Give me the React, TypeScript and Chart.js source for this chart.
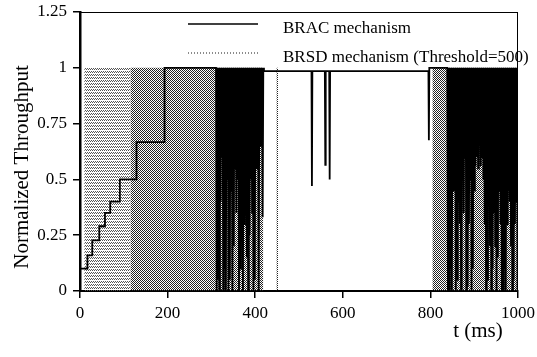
import React, { useEffect, useRef } from 'react';
import { Chart, registerables } from 'chart.js';

Chart.register(...registerables);

// ---- Data ----
const xTickValues = [0, 200, 400, 600, 800, 1000];
const yTickValues = [0, 0.25, 0.5, 0.75, 1, 1.25];
const seriesNames = ['BRAC mechanism', 'BRSD mechanism (Threshold=500)'];
const xTitle = 't (ms)';
const yTitle = 'Normalized Throughput';

// BRAC: slow-start ramp
const bracRampT = [0, 0, 17, 17, 28, 28, 44, 44, 57, 57, 69, 69, 91, 91, 129, 129, 193, 193, 310.5];
const bracRampY = [0, 0.1, 0.1, 0.16, 0.16, 0.227, 0.227, 0.29, 0.29, 0.35, 0.35, 0.4, 0.4, 0.5, 0.5, 0.667, 0.667, 1, 1];

// BRAC: first burst of drops (≈310–420 ms)
const bracBurst1T = [312, 313.5, 315, 316.5, 318, 319.5, 321, 322.5, 324, 325.5, 327, 328.5, 330, 331.5, 333, 334.5, 336, 337.5, 339, 340.5, 342, 343.5, 345, 346.5, 348, 349.5, 351, 352.5, 354, 355.5, 357, 358.5, 360, 361.5, 363, 364.5, 366, 367.5, 369, 370.5, 372, 373.5, 375, 376.5, 378, 379.5, 381, 382.5, 384, 385.5, 387, 388.5, 390, 391.5, 393, 394.5, 396, 397.5, 399, 400.5, 402, 403.5, 405, 406.5, 408, 409.5, 411, 412.5, 414, 415.5, 417, 418.5];
const bracBurst1Y = [0, 1, 0.05, 1, 0, 1, 0.4, 1, 0.6, 1, 0, 1, 0.1, 1, 0, 1, 0.5, 1, 0, 1, 0.05, 1, 0.45, 1, 0, 1, 0.2, 1, 0.55, 1, 0.35, 1, 0.5, 1, 0, 1, 0.1, 1, 0.4, 1, 0, 1, 0.3, 1, 0.6, 1, 0.15, 1, 0, 1, 0.25, 1, 0.5, 1, 0.35, 1, 0, 1, 0.05, 1, 0.55, 1, 0.7, 1, 0, 1, 0.65, 1, 0.8, 1, 0.33, 1];

// BRAC: plateau with a few dips
const bracPlateauT = [420, 528.5, 529.5, 530.5, 559, 560, 561, 569, 570, 571, 795.5, 796.5, 797.5, 838.5];
const bracPlateauY = [0.985, 0.985, 0.47, 0.985, 0.985, 0.565, 0.985, 0.985, 0.5, 0.985, 0.985, 0.675, 1, 1];

// BRAC: second burst of drops (≈840–1000 ms)
const bracBurst2T = [840, 841.5, 843, 844.5, 846, 847.5, 849, 850.5, 852, 853.5, 855, 856.5, 858, 859.5, 861, 862.5, 864, 865.5, 867, 868.5, 870, 871.5, 873, 874.5, 876, 877.5, 879, 880.5, 882, 883.5, 885, 886.5, 888, 889.5, 891, 892.5, 894, 895.5, 897, 898.5, 900, 901.5, 903, 904.5, 906, 907.5, 909, 910.5, 912, 913.5, 915, 916.5, 918, 919.5, 921, 922.5, 924, 925.5, 927, 928.5, 930, 931.5, 933, 934.5, 936, 937.5, 939, 940.5, 942, 943.5, 945, 946.5, 948, 949.5, 951, 952.5, 954, 955.5, 957, 958.5, 960, 961.5, 963, 964.5, 966, 967.5, 969, 970.5, 972, 973.5, 975, 976.5, 978, 979.5, 981, 982.5, 984, 985.5, 987, 988.5, 990, 991.5, 993, 994.5, 996, 997.5, 999, 1000];
const bracBurst2Y = [0, 1, 0, 1, 0.1, 1, 0, 1, 0.45, 1, 0.6, 1, 0, 1, 0.05, 1, 0.4, 1, 0.3, 1, 0, 1, 0.55, 1, 0.35, 1, 0.6, 1, 0, 1, 0.02, 1, 0.3, 1, 0.5, 1, 0, 1, 0.1, 1, 0.45, 1, 0.56, 1, 0.6, 1, 0.55, 1, 0.65, 1, 0.56, 1, 0.6, 1, 0.5, 1, 0.3, 1, 0, 1, 0.05, 1, 0.4, 1, 0.2, 1, 0, 1, 0.1, 1, 0.35, 1, 0.2, 1, 0, 1, 0.15, 1, 0.45, 1, 0.3, 1, 0, 1, 0, 1, 0.1, 1, 0, 1, 0.3, 1, 0.45, 1, 0.4, 1, 0.2, 1, 0, 1, 0.05, 1, 0.3, 1, 0.4, 1, 0, 1];

// BRSD: step levels (rendered as a halftone-filled area)
const brsdT = [0, 10, 10, 115, 418, 418, 449, 449, 452, 452, 805, 805, 1000];
const brsdY = [0, 0, 1, 1, 1, 0, 0, 1, 1, 0, 0, 1, 1];
const brsdShadeBreak = 115; // lighter halftone before this time

const zip = (t: number[], y: number[]) =>
  t.slice(0, Math.min(t.length, y.length)).map((x, i) => ({ x, y: y[i] }));

const FONT = '"Liberation Serif", "Times New Roman", serif';

const zeroPad = (s: any) => {
  s.paddingTop = 0;
  s.paddingBottom = 0;
  s.paddingLeft = 0;
  s.paddingRight = 0;
};

export default function App() {
  const ref = useRef<HTMLCanvasElement>(null);

  useEffect(() => {
    const canvas = ref.current!;
    const mainCtx = canvas.getContext('2d')!;
    const makePattern = (w: number, h: number, dots: number[][], color: string) => {
      const c = document.createElement('canvas');
      c.width = w;
      c.height = h;
      const g = c.getContext('2d')!;
      g.fillStyle = color;
      dots.forEach(([x, y]) => g.fillRect(x, y, 1, 1));
      return mainCtx.createPattern(c, 'repeat')!;
    };
    const darkDots = makePattern(2, 2, [[0, 0], [1, 1]], '#222');
    const lightDots = makePattern(2, 3, [[0, 0], [1, 2]], '#555');

    const bracData = [
      ...zip(bracRampT, bracRampY),
      ...zip(bracBurst1T, bracBurst1Y),
      ...zip(bracPlateauT, bracPlateauY),
      ...zip(bracBurst2T, bracBurst2Y),
    ];
    const brsdAll = zip(brsdT, brsdY);
    const brsdLight = brsdAll.filter((p) => p.x <= brsdShadeBreak);
    const brsdDark = brsdAll.filter((p) => p.x >= brsdShadeBreak);

    const decor = {
      id: 'decor',
      beforeDatasetsDraw(chart: any) {
        const c = chart.ctx;
        c.save();
        c.strokeStyle = '#000';
        c.lineWidth = 1.6;
        c.beginPath();
        c.moveTo(188, 24);
        c.lineTo(258, 24);
        c.stroke();
        c.strokeStyle = '#666';
        c.setLineDash([1, 2]);
        c.beginPath();
        c.moveTo(188, 53);
        c.lineTo(258, 53);
        c.stroke();
        c.setLineDash([]);
        c.fillStyle = '#000';
        c.font = `17px ${FONT}`;
        c.textAlign = 'left';
        c.textBaseline = 'alphabetic';
        c.fillText(seriesNames[0], 283, 33);
        c.fillText(seriesNames[1], 283, 62);
        c.restore();
      },
      afterDraw(chart: any) {
        const c = chart.ctx;
        const a = chart.chartArea;
        c.save();
        c.strokeStyle = '#000';
        c.lineWidth = 1;
        c.beginPath();
        c.moveTo(a.left, a.top + 0.5);
        c.lineTo(a.right, a.top + 0.5);
        c.moveTo(a.right - 0.5, a.top);
        c.lineTo(a.right - 0.5, a.bottom);
        c.stroke();
        c.fillStyle = '#000';
        c.font = `21px ${FONT}`;
        c.textAlign = 'center';
        c.textBaseline = 'middle';
        c.fillText(xTitle, 478, 331);
        c.translate(22, 167);
        c.rotate(-Math.PI / 2);
        c.fillText(yTitle, 0, 0);
        c.restore();
      },
    };

    const chart = new Chart(canvas, {
      type: 'line',
      data: {
        datasets: [
          {
            label: seriesNames[0],
            data: bracData,
            borderColor: '#000',
            borderWidth: 1.8,
            pointRadius: 0,
            fill: false,
            tension: 0,
            order: 0,
          },
          {
            label: seriesNames[1],
            data: brsdDark,
            borderColor: 'rgba(0,0,0,0)',
            borderWidth: 0,
            backgroundColor: darkDots,
            pointRadius: 0,
            fill: 'origin',
            tension: 0,
            order: 1,
          },
          {
            label: seriesNames[1] + ' (light)',
            data: brsdLight,
            borderColor: 'rgba(0,0,0,0)',
            borderWidth: 0,
            backgroundColor: lightDots,
            pointRadius: 0,
            fill: 'origin',
            tension: 0,
            order: 2,
          },
        ],
      },
      options: {
        animation: false,
        responsive: false,
        layout: { padding: { left: 0, right: 19, top: 12, bottom: 0 } },
        plugins: { legend: { display: false }, tooltip: { enabled: false } },
        scales: {
          x: {
            type: 'linear',
            min: 0,
            max: 1000,
            afterBuildTicks: (s: any) => {
              s.ticks = xTickValues.map((v) => ({ value: v }));
            },
            afterFit: (s: any) => {
              s.height = 66;
              zeroPad(s);
            },
            grid: { drawOnChartArea: false, tickLength: 7, color: '#000', lineWidth: 1.5 },
            border: { display: true, color: '#000', width: 2 },
            ticks: {
              color: '#000',
              padding: 5,
              maxRotation: 0,
              font: { family: FONT, size: 17 },
              callback: (v: any) => String(v),
            },
          },
          y: {
            type: 'linear',
            min: 0,
            max: 1.25,
            afterBuildTicks: (s: any) => {
              s.ticks = yTickValues.map((v) => ({ value: v }));
            },
            afterFit: (s: any) => {
              s.width = 80;
              zeroPad(s);
            },
            grid: { drawOnChartArea: false, tickLength: 7, color: '#000', lineWidth: 1.5 },
            border: { display: true, color: '#000', width: 2.5 },
            ticks: {
              color: '#000',
              padding: 6,
              font: { family: FONT, size: 17 },
              callback: (v: any) => String(v),
            },
          },
        },
      },
      plugins: [decor],
    } as any);

    return () => chart.destroy();
  }, []);

  return (
    <div style={{ position: 'absolute', left: 0, top: 0, width: 537, height: 357, background: '#fff' }}>
      <canvas ref={ref} width={537} height={357} style={{ display: 'block' }} />
    </div>
  );
}
